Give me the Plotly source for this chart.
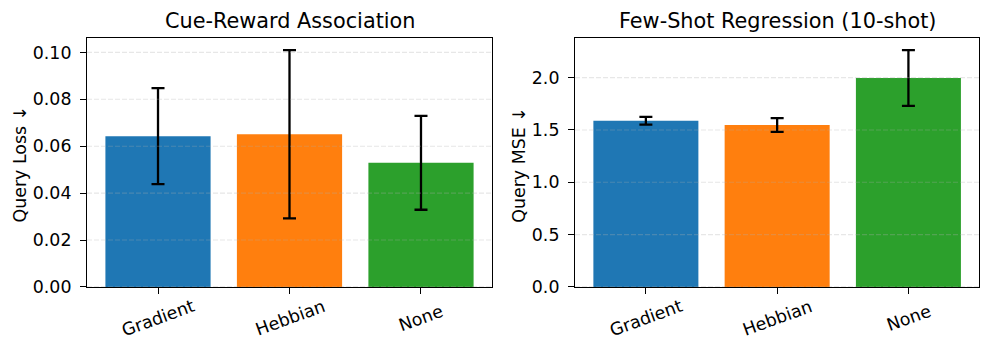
"""
Сравнение правил пластичности: Cue-Reward и Few-Shot Regression
"""

import plotly.graph_objects as go
from plotly.subplots import make_subplots

# Данные
categories = ["Gradient", "Hebbian", "None"]
cue_loss = [0.0643, 0.0651, 0.0529]
cue_loss_err = [0.0205, 0.0359, 0.0200]
reg_mse = [1.588, 1.548, 1.997]
reg_mse_err = [0.037, 0.066, 0.267]

titles = ["Cue-Reward Association", "Few-Shot Regression (10-shot)"]
y_titles = ["Query Loss ↓", "Query MSE ↓"]
cue_ticks = [0.0, 0.02, 0.04, 0.06, 0.08, 0.10]
mse_ticks = [0.0, 0.5, 1.0, 1.5, 2.0]

colors = ["#1f77b4", "#ff7f0e", "#2ca02c"]
FONT = "DejaVu Sans"
TICK_SIZE = 17.4
TITLE_SIZE = 20.8

# Страница браузера добавляет отступ 8px у body — компенсируем
PAGE_PAD = 8
W, H = 992 - PAGE_PAD, 362 - PAGE_PAD


def px_x(x):
    """Пиксель окна по x -> координата paper"""
    return (x - PAGE_PAD) / W


def px_y(y):
    """Пиксель окна по y (сверху) -> координата paper"""
    return (H - (y - PAGE_PAD)) / H


fig = make_subplots(rows=1, cols=2)

panels = [
    (cue_loss, cue_loss_err, cue_ticks, 0.1061, ".2f"),
    (reg_mse, reg_mse_err, mse_ticks, 2.378, ".1f"),
]
x_domains = [[px_x(87), px_x(492)], [px_x(575), px_x(979.3)]]
y_domain = [px_y(295), px_y(39)]
y_title_x = [px_x(20), px_x(519.3)]

for i, (vals, errs, ticks, ymax, fmt) in enumerate(panels):
    col = i + 1
    fig.add_trace(go.Bar(
        x=categories,
        y=vals,
        marker=dict(color=colors, line=dict(width=0)),
        error_y=dict(type="data", array=errs, color="black", thickness=2.3, width=6.5),
        showlegend=False,
    ), row=1, col=col)

    axis_common = dict(
        showline=True, linecolor="black", linewidth=1.1, mirror=True,
        ticks="outside", ticklen=6, tickwidth=1.1, tickcolor="black",
        showgrid=False, zeroline=False,
        tickfont=dict(family=FONT, size=TICK_SIZE, color="black"),
    )
    fig.update_xaxes(
        domain=x_domains[i], range=[-0.54, 2.54], showticklabels=False,
        **axis_common, row=1, col=col,
    )
    fig.update_yaxes(
        domain=y_domain, range=[0, ymax], tickvals=ticks, tickformat=fmt,
        ticklabelstandoff=5, **axis_common, row=1, col=col,
    )

    xref = "x" if i == 0 else "x2"
    yref = "y" if i == 0 else "y2"

    # Сетка поверх столбцов (как в matplotlib)
    for t in ticks:
        fig.add_shape(
            type="line", xref=f"{xref} domain", x0=0, x1=1, yref=yref, y0=t, y1=t,
            line=dict(color="rgba(176,176,176,0.3)", width=1.1, dash="5px,2px"),
            layer="above",
        )

    # Подписи категорий под углом 20°
    for c in categories:
        fig.add_annotation(
            x=c, xref=xref, y=px_y(326.5), yref="paper",
            text=c, textangle=-20, showarrow=False,
            xanchor="center", yanchor="middle",
            font=dict(family=FONT, size=TICK_SIZE, color="black"),
        )

    # Заголовки
    fig.add_annotation(
        x=sum(x_domains[i]) / 2, xref="paper", y=px_y(21.7), yref="paper",
        text=titles[i], showarrow=False, xanchor="center", yanchor="middle",
        font=dict(family=FONT, size=TITLE_SIZE, color="black"),
    )
    fig.add_annotation(
        x=y_title_x[i], xref="paper", y=px_y(169), yref="paper",
        text=y_titles[i], textangle=-90, showarrow=False,
        xanchor="center", yanchor="middle",
        font=dict(family=FONT, size=TICK_SIZE, color="black"),
    )

fig.update_layout(
    width=W, height=H,
    margin=dict(l=0, r=0, t=0, b=0),
    bargap=0.2,
    plot_bgcolor="white", paper_bgcolor="white",
    font=dict(family=FONT, color="black"),
)

fig.write_html("out.html")
